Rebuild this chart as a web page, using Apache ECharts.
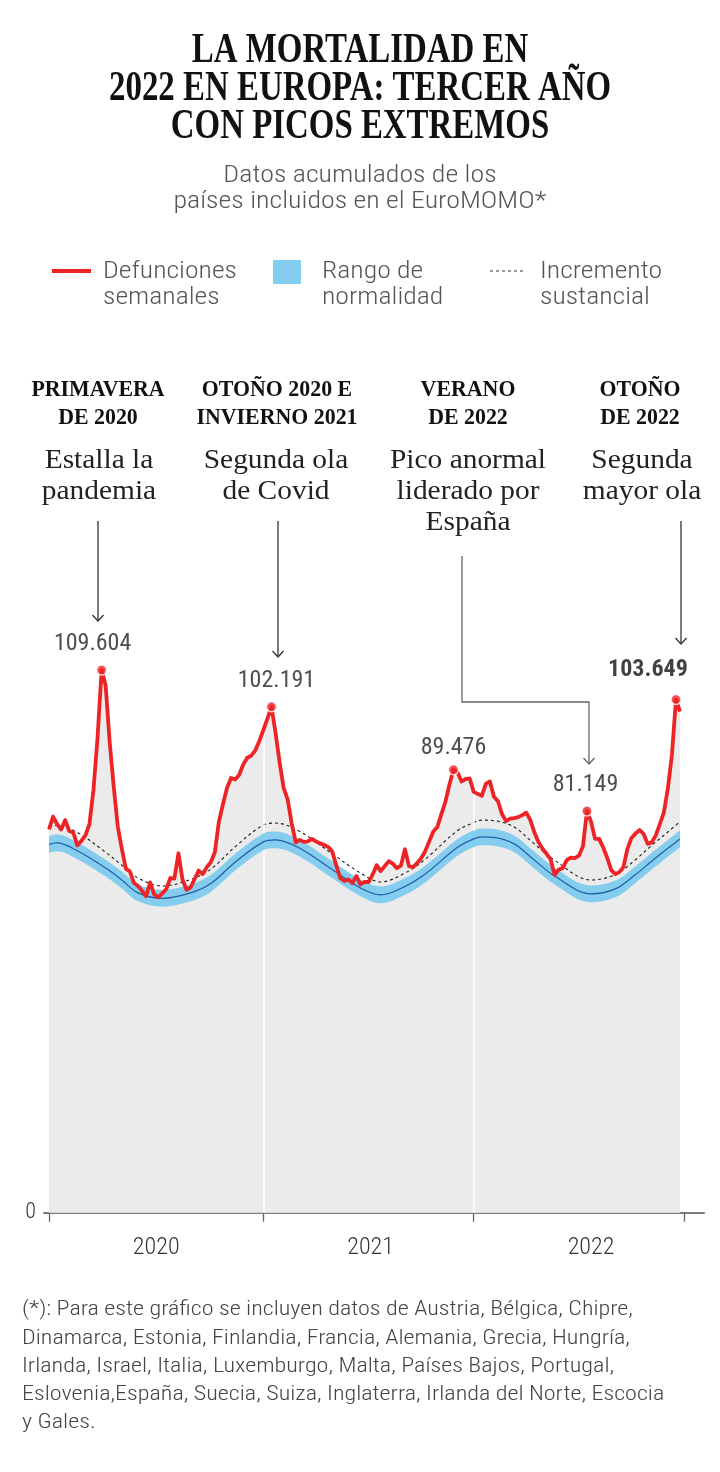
<!DOCTYPE html>
<html><head><meta charset="utf-8">
<script src="https://cdn.jsdelivr.net/npm/echarts@6/dist/echarts.min.js"></script>
<style>html,body{margin:0;padding:0;background:#fff}#c{width:720px;height:1472px}</style>
</head><body><div id="c"></div>
<script>
// ---------- DATA (thousands of deaths per week, EuroMOMO pooled) ----------
// Week index 0 = first week of 2020
const yearLabels = ['2020', '2021', '2022'];
const yearStartWeeks = [0, 53, 105, 157];

const defunciones = [
  77.4, 80.0, 78.5, 77.4, 79.3, 77.1, 76.8, 74.2, 75.1, 76.2,
  78.5, 85.5, 96.0, 109.604, 106.5, 95.0, 86.0, 78.0, 73.5, 69.5,
  68.9, 66.6, 66.0, 65.0, 63.9, 66.7, 64.3, 63.7, 64.5, 65.4,
  67.6, 67.5, 72.6, 67.3, 65.2, 65.7, 67.4, 69.1, 68.4, 69.8,
  70.8, 72.8, 79.0, 82.5, 85.8, 87.8, 87.5, 88.4, 90.5, 91.9,
  92.3, 93.4, 95.3, 97.5, 99.8, 102.191, 97.0, 91.0, 85.8, 83.5,
  78.6, 74.8, 75.3, 74.9, 75.0, 75.5, 75.0, 74.6, 74.3, 73.9,
  73.0, 70.2, 67.6, 67.0, 67.3, 66.6, 68.0, 66.3, 66.8, 66.8,
  68.3, 70.2, 69.0, 70.0, 71.0, 70.5, 69.6, 70.1, 73.4, 70.0,
  69.8, 70.6, 71.6, 73.0, 75.0, 77.0, 77.9, 80.5, 83.0, 86.5,
  89.476, 88.9, 87.1, 87.6, 87.7, 85.0, 84.6, 84.2, 86.6, 87.1,
  84.0, 83.1, 80.5, 79.1, 79.6, 79.7, 79.9, 80.3, 80.8, 79.3,
  76.8, 74.9, 73.5, 72.5, 71.4, 68.2, 69.3, 69.6, 71.2, 71.7,
  71.6, 72.1, 74.0, 81.149, 79.0, 75.5, 75.5, 73.8, 71.7, 69.2,
  68.4, 68.8, 69.8, 73.5, 75.7, 76.6, 77.3, 76.5, 74.5, 74.8,
  76.2, 78.5, 80.8, 85.7, 92.5, 103.649, 101.2
];

// Expected (baseline), normal range and "substantial increase" threshold, read at these weeks
const refWeeks   = [0, 2, 7, 14, 18, 22, 28, 35, 40, 46, 53, 56, 62, 70, 77, 82, 88, 93, 101, 105, 107, 110, 115, 119, 125, 134, 140, 145, 149, 153, 156];
const baseline   = [74.4, 74.7, 73.1, 69.6, 67.2, 64.6, 63.5, 64.6, 66.5, 70.8, 74.9, 75.3, 73.6, 69.3, 65.6, 64.2, 65.9, 68.4, 73.8, 75.5, 75.9, 75.8, 74.5, 71.9, 68.0, 64.4, 65.4, 68.3, 71.0, 73.6, 75.5];
const rangeLow   = [72.7, 73.0, 71.4, 67.9, 65.5, 62.9, 61.8, 62.9, 64.8, 69.1, 73.2, 73.6, 71.9, 67.6, 63.9, 62.5, 64.2, 66.7, 72.1, 73.8, 74.2, 74.1, 72.8, 70.2, 66.3, 62.7, 63.7, 66.6, 69.3, 71.9, 73.8];
const rangeHigh  = [76.1, 76.4, 74.8, 71.3, 68.9, 66.3, 65.2, 66.3, 68.2, 72.5, 76.6, 77.0, 75.3, 71.0, 67.3, 65.9, 67.6, 70.1, 75.5, 77.2, 77.6, 77.5, 76.2, 73.6, 69.7, 66.1, 67.1, 70.0, 72.7, 75.3, 77.2];
const incremento = [78.0, 78.2, 76.8, 72.8, 70.2, 67.6, 66.0, 67.3, 69.4, 73.9, 78.3, 78.7, 77.0, 72.5, 68.6, 66.8, 68.6, 71.4, 77.2, 78.8, 79.3, 79.2, 77.9, 75.2, 71.2, 67.2, 68.3, 71.3, 74.2, 76.9, 79.0];

// Highlighted peaks (week index into defunciones)
const peakWeeks = [13, 55, 100, 133, 155];

// ---------- FONTS ----------
const mctx = document.createElement('canvas').getContext('2d');
function hasFont(name) {
  const s = 'abcdefghijklmnopqrstuvwxyzABCDEFGHIJKLMNOPQRSTUVWXYZ0123456789';
  return ['monospace', 'serif', 'sans-serif'].some(fb => {
    mctx.font = '40px ' + fb; const a = mctx.measureText(s).width;
    mctx.font = '40px "' + name + '", ' + fb; const b = mctx.measureText(s).width;
    return Math.abs(a - b) > 0.5;
  });
}
function pick(list, fb) { for (const f of list) if (hasFont(f)) return '"' + f + '"'; return fb; }
const SANS = pick(['Roboto Condensed', 'Roboto', 'Liberation Sans Narrow', 'Liberation Sans'], 'sans-serif');
const SERIF = pick(['Liberation Serif', 'DejaVu Serif'], 'serif');
const SANS_NAME = SANS.replace(/"/g, '');
function fontStr(o) { return (o.weight || 'normal') + ' ' + o.size + 'px ' + o.family; }
function scaleFor(text, o, target) { mctx.font = fontStr(o); return target / mctx.measureText(text).width; }

const stTitle = { family: SERIF, weight: 'bold', size: 42 };
const stSub = { family: SANS, weight: 300, size: 24 };
const stLeg = { family: SANS, weight: 300, size: 24 };
const stHead = { family: SERIF, weight: 'bold', size: 23 };
const stDesc = { family: SERIF, weight: 'normal', size: 28 };
const stFoot = { family: SANS, weight: 300, size: 21 };
stTitle.sx = scaleFor('2022 EN EUROPA: TERCER AÑO', stTitle, 502);
stSub.sx = scaleFor('países incluidos en el EuroMOMO*', stSub, 373);
stLeg.sx = scaleFor('Defunciones', stLeg, 134);
stHead.sx = scaleFor('INVIERNO 2021', stHead, 161);
stDesc.sx = scaleFor('Pico anormal', stDesc, 156);
stFoot.sx = scaleFor('Dinamarca, Estonia, Finlandia, Francia, Alemania, Grecia, Hungría,', stFoot, 608);

function T(text, x, y, st, color, align) {
  return {
    type: 'text', x: x, y: y, scaleX: st.sx, silent: true, z: 100,
    style: {
      text: text, font: fontStr(st), fill: color,
      textAlign: align || 'center', align: align || 'center',
      textVerticalAlign: 'middle', verticalAlign: 'middle'
    }
  };
}
function arrow(points, color) {
  const p = points[points.length - 1];
  return [
    { type: 'polyline', silent: true, z: 100, shape: { points: points }, style: { stroke: color, lineWidth: 1.3, fill: null } },
    { type: 'polyline', silent: true, z: 100, shape: { points: [[p[0] - 5.5, p[1] - 6], p, [p[0] + 5.5, p[1] - 6]] }, style: { stroke: color, lineWidth: 1.3, fill: null } }
  ];
}

const gfx = [];
// Title
gfx.push(T('LA MORTALIDAD EN', 360, 51, stTitle, '#111'));
gfx.push(T('2022 EN EUROPA: TERCER AÑO', 360, 89, stTitle, '#111'));
gfx.push(T('CON PICOS EXTREMOS', 360, 127, stTitle, '#111'));
gfx.push(T('Datos acumulados de los', 360, 176, stSub, '#555'));
gfx.push(T('países incluidos en el EuroMOMO*', 360, 202, stSub, '#555'));
// Legend
gfx.push({ type: 'line', silent: true, z: 100, shape: { x1: 52, y1: 271, x2: 91, y2: 271 }, style: { stroke: '#ee2326', lineWidth: 4 } });
gfx.push(T('Defunciones', 103, 272, stLeg, '#555', 'left'));
gfx.push(T('semanales', 103, 298, stLeg, '#555', 'left'));
gfx.push({ type: 'rect', silent: true, z: 100, shape: { x: 273, y: 260, width: 28, height: 24 }, style: { fill: '#85cdee' } });
gfx.push(T('Rango de', 322, 272, stLeg, '#555', 'left'));
gfx.push(T('normalidad', 322, 298, stLeg, '#555', 'left'));
gfx.push({ type: 'line', silent: true, z: 100, shape: { x1: 490, y1: 271, x2: 523, y2: 271 }, style: { stroke: '#333', lineWidth: 1, lineDash: [3, 3] } });
gfx.push(T('Incremento', 540, 272, stLeg, '#555', 'left'));
gfx.push(T('sustancial', 540, 298, stLeg, '#555', 'left'));
// Annotations
gfx.push(T('PRIMAVERA', 98, 390, stHead, '#111'));
gfx.push(T('DE 2020', 98, 418, stHead, '#111'));
gfx.push(T('Estalla la', 99, 461, stDesc, '#222'));
gfx.push(T('pandemia', 99, 492, stDesc, '#222'));
gfx.push(T('OTOÑO 2020 E', 277, 390, stHead, '#111'));
gfx.push(T('INVIERNO 2021', 277, 418, stHead, '#111'));
gfx.push(T('Segunda ola', 276, 461, stDesc, '#222'));
gfx.push(T('de Covid', 276, 492, stDesc, '#222'));
gfx.push(T('VERANO', 468, 390, stHead, '#111'));
gfx.push(T('DE 2022', 468, 418, stHead, '#111'));
gfx.push(T('Pico anormal', 468, 461, stDesc, '#222'));
gfx.push(T('liderado por', 468, 492, stDesc, '#222'));
gfx.push(T('España', 468, 523, stDesc, '#222'));
gfx.push(T('OTOÑO', 640, 390, stHead, '#111'));
gfx.push(T('DE 2022', 640, 418, stHead, '#111'));
gfx.push(T('Segunda', 642, 461, stDesc, '#222'));
gfx.push(T('mayor ola', 642, 492, stDesc, '#222'));
gfx.push(...arrow([[98, 521], [98, 621]], '#333'));
gfx.push(...arrow([[278, 521], [278, 657]], '#333'));
gfx.push(...arrow([[462, 556], [462, 702], [589, 702], [589, 764]], '#666'));
gfx.push(...arrow([[681, 521], [681, 644]], '#333'));
// Footnote
const foot = [
  '(*): Para este gráfico se incluyen datos de Austria, Bélgica, Chipre,',
  'Dinamarca, Estonia, Finlandia, Francia, Alemania, Grecia, Hungría,',
  'Irlanda, Israel, Italia, Luxemburgo, Malta, Países Bajos, Portugal,',
  'Eslovenia,España, Suecia, Suiza, Inglaterra, Irlanda del Norte, Escocia',
  'y Gales.'
];
foot.forEach((l, k) => gfx.push(T(l, 22, 1310 + k * 28.3, stFoot, '#444', 'left')));

// ---------- CHART ----------
const weeks = defunciones.map((_, i) => i);
const redPts = weeks.map(i => [i, defunciones[i]]);
const peakLabelTweaks = [[-9, 0], [5, 0], [0, 4], [-1.5, 0], [-28, -4]];
const GRAY = '#ebebeb';

// white year separators: drawn in the gray, but not across the normal range band
const separators = [];
[yearStartWeeks[1], yearStartWeeks[2]].forEach(w => {
  const k = refWeeks.indexOf(w);
  separators.push([{ coord: [w, 0] }, { coord: [w, rangeLow[k]] }]);
  separators.push([{ coord: [w, rangeHigh[k]] }, { coord: [w, defunciones[w]] }]);
});

const smoothK = 0.35;
const chart = echarts.init(document.getElementById('c'), null, { renderer: 'canvas', width: 720, height: 1472 });
chart.setOption({
  animation: false,
  backgroundColor: '#fff',
  grid: { left: 44, right: 16, top: 618.6, bottom: 259.3 },
  xAxis: {
    type: 'value', min: -1.24, max: 161.93,
    splitLine: { show: false },
    axisLine: { show: true, lineStyle: { color: '#7c7c7c', width: 2 } },
    axisTick: { show: true, customValues: yearStartWeeks, length: 9, lineStyle: { color: '#666', width: 1.3 } },
    axisLabel: {
      customValues: [26.5, 79.5, 134],
      formatter: v => yearLabels[[26.5, 79.5, 134].indexOf(v)] || '',
      color: '#333', fontFamily: SANS_NAME, fontWeight: 300, fontSize: 24, margin: 23
    }
  },
  yAxis: {
    type: 'value', min: 0, max: 120,
    splitLine: { show: false }, axisLine: { show: false }, axisTick: { show: false },
    axisLabel: { customValues: [0], color: '#333', fontFamily: SANS_NAME, fontWeight: 300, fontSize: 22, margin: 8 }
  },
  graphic: { elements: gfx },
  series: [
    {
      name: 'fondo', type: 'line', data: redPts, showSymbol: false, silent: true, z: 1,
      lineStyle: { width: 0, opacity: 0 }, areaStyle: { color: GRAY, opacity: 1 }
    },
    {
      name: 'Rango de normalidad', type: 'line', smooth: smoothK, showSymbol: false, silent: true, z: 2,
      data: refWeeks.map((w, k) => [w, rangeHigh[k]]), lineStyle: { width: 0, opacity: 0 },
      areaStyle: { color: '#85cdee', opacity: 1 }
    },
    {
      name: 'rangoInferior', type: 'line', smooth: smoothK, showSymbol: false, silent: true, z: 3,
      data: refWeeks.map((w, k) => [w, rangeLow[k]]), lineStyle: { width: 0, opacity: 0 },
      areaStyle: { color: GRAY, opacity: 1 },
      markLine: {
        silent: true, symbol: 'none', label: { show: false },
        lineStyle: { color: '#ffffff', width: 1.5, type: 'solid' },
        data: separators
      }
    },
    {
      name: 'Base', type: 'line', smooth: smoothK, showSymbol: false, silent: true, z: 4,
      data: refWeeks.map((w, k) => [w, baseline[k]]), lineStyle: { color: '#1d5ea6', width: 1.2 }
    },
    {
      name: 'Incremento sustancial', type: 'line', smooth: smoothK, showSymbol: false, silent: true, z: 4,
      data: refWeeks.map((w, k) => [w, incremento[k]]), lineStyle: { color: '#1a1a1a', width: 1.1, type: [3, 3] }
    },
    {
      name: 'Defunciones semanales', type: 'line', data: redPts, showSymbol: false, silent: true, z: 5,
      lineStyle: { color: '#ee2326', width: 3.8, join: 'round' }
    },
    {
      name: 'picos', type: 'scatter', z: 6, silent: true,
      symbol: 'circle', symbolSize: 10,
      itemStyle: { color: '#ee2326', borderColor: '#fff', borderWidth: 1.5 },
      data: peakWeeks.map((w, k) => ({
        value: [w, defunciones[w]],
        label: {
          show: true, position: 'top', distance: 8, offset: peakLabelTweaks[k],
          formatter: p => p.value[1].toFixed(3),
          color: k === 4 ? '#111' : '#222',
          fontFamily: SANS_NAME, fontWeight: k === 4 ? 'bold' : 'normal', fontSize: 24
        }
      }))
    }
  ]
});
</script>
</body></html>
